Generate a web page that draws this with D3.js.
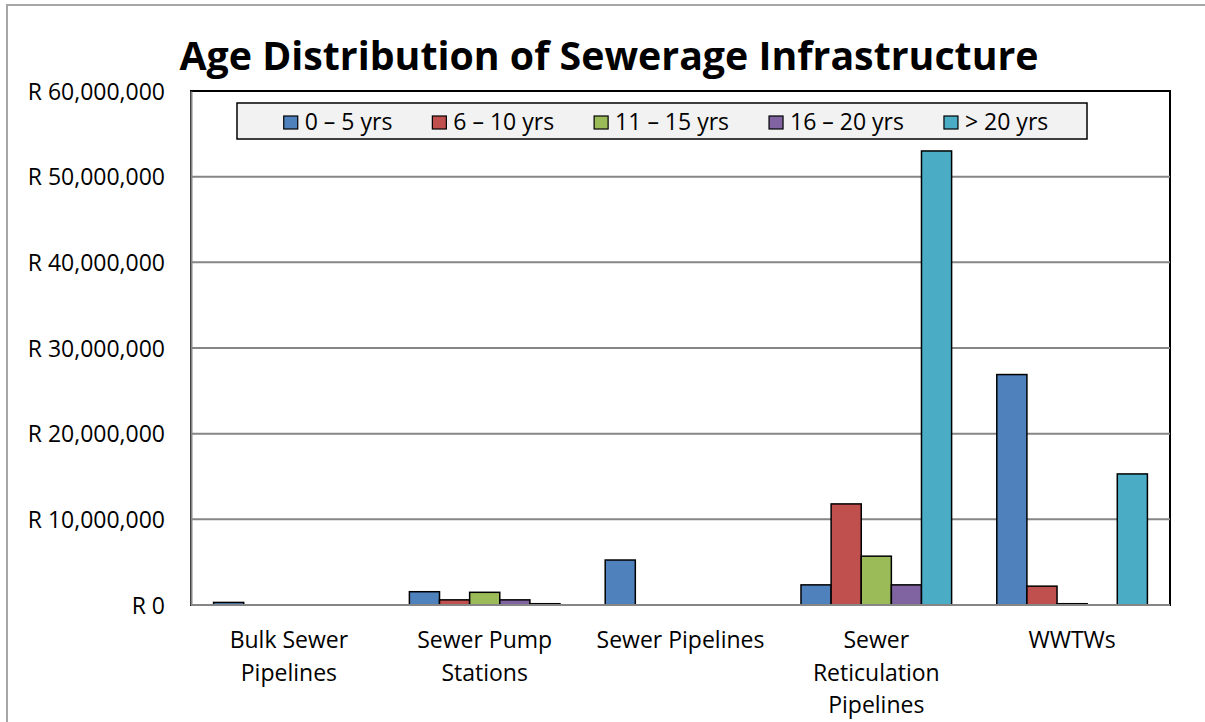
<!DOCTYPE html>
<html>
<head>
<meta charset="utf-8">
<script src="https://cdn.jsdelivr.net/npm/d3@7"></script>
<style>
  body { margin: 0; background: #fff; }
  text { font-family: "Open Sans", "Noto Sans", sans-serif; fill: #000; }
</style>
</head>
<body>
<script>
// categories along the x axis (each label split in lines as in the picture)
var categories = ["Bulk Sewer Pipelines", "Sewer Pump Stations", "Sewer Pipelines",
                  "Sewer Reticulation Pipelines", "WWTWs"];
var categoryLines = [["Bulk Sewer", "Pipelines"], ["Sewer Pump", "Stations"], ["Sewer Pipelines"],
                     ["Sewer", "Reticulation", "Pipelines"], ["WWTWs"]];

var series = ["0 – 5 yrs", "6 – 10 yrs", "11 – 15 yrs", "16 – 20 yrs", "> 20 yrs"];
var colors = ["#4f81bd", "#c0504d", "#9bbb59", "#8064a2", "#4bacc6"];

// values in Rand
var yrs0to5   = [300000, 1550000, 5250000, 2350000, 26900000];
var yrs6to10  = [0, 600000, 0, 11800000, 2200000];
var yrs11to15 = [0, 1480000, 0, 5700000, 150000];
var yrs16to20 = [0, 600000, 0, 2350000, 0];
var yrsOver20 = [0, 150000, 0, 53000000, 15300000];
var seriesValues = [yrs0to5, yrs6to10, yrs11to15, yrs16to20, yrsOver20];

var yTicks = [0, 10000000, 20000000, 30000000, 40000000, 50000000, 60000000];

var W = 1205, H = 722;
var margin = {top: 91, right: 35, bottom: 117, left: 191};

var svg = d3.select("body").append("svg")
    .attr("width", W)
    .attr("height", H);

// outer chart border
svg.append("rect")
    .attr("x", 7).attr("y", 5)
    .attr("width", W + 20).attr("height", H + 20)
    .attr("fill", "#fff")
    .attr("stroke", "#a6a6a6")
    .attr("stroke-width", 2);

var x0 = d3.scaleBand()
    .domain(categories)
    .range([margin.left, W - margin.right])
    .padding(0);

var x1 = d3.scaleBand()
    .domain(series)
    .range([0, x0.bandwidth()])
    .paddingInner(0)
    .paddingOuter(0.75);

var y = d3.scaleLinear()
    .domain([0, 60000000])
    .range([H - margin.bottom, margin.top]);

// plot area frame
svg.append("rect")
    .attr("x", margin.left).attr("y", margin.top)
    .attr("width", W - margin.right - margin.left)
    .attr("height", H - margin.bottom - margin.top)
    .attr("fill", "none")
    .attr("stroke", "#000")
    .attr("stroke-width", 2);

// gridlines
svg.append("g")
    .selectAll("line")
    .data(yTicks.slice(1, -1))
    .enter()
    .append("line")
    .attr("x1", margin.left).attr("x2", W - margin.right)
    .attr("y1", function(d) { return y(d); })
    .attr("y2", function(d) { return y(d); })
    .attr("stroke", "#868686")
    .attr("stroke-width", 2);

// y axis
var fmt = d3.format(",");
var yAxis = svg.append("g")
    .attr("transform", "translate(" + margin.left + ",0)")
    .call(d3.axisLeft(y).tickValues(yTicks).tickSize(0).tickPadding(26)
        .tickFormat(function(d) { return "R " + fmt(d); }));
yAxis.select(".domain").attr("stroke", "#868686").attr("stroke-width", 2);
yAxis.selectAll("text").style("font-size", "23px").attr("font-family", null).attr("dy", "0.35em");

// bars
var groups = svg.append("g")
    .selectAll("g")
    .data(categories)
    .enter()
    .append("g")
    .attr("transform", function(d) { return "translate(" + x0(d) + ",0)"; });

groups.selectAll("rect")
    .data(function(d, i) {
        return series.map(function(s, j) { return {key: s, value: seriesValues[j][i], color: colors[j]}; })
            .filter(function(e) { return e.value > 0; });
    })
    .enter()
    .append("rect")
    .attr("x", function(d) { return x1(d.key); })
    .attr("y", function(d) { return y(d.value); })
    .attr("width", x1.bandwidth())
    .attr("height", function(d) { return y(0) - y(d.value); })
    .attr("fill", function(d) { return d.color; })
    .attr("stroke", "#000")
    .attr("stroke-width", 1.5);

// x axis baseline
svg.append("line")
    .attr("x1", margin.left).attr("x2", W - margin.right)
    .attr("y1", y(0)).attr("y2", y(0))
    .attr("stroke", "#868686")
    .attr("stroke-width", 2);

// category labels
svg.append("g")
    .selectAll("text")
    .data(categories)
    .enter()
    .append("text")
    .attr("text-anchor", "middle")
    .style("font-size", "23px")
    .each(function(d, i) {
        var t = d3.select(this);
        categoryLines[i].forEach(function(line, k) {
            t.append("tspan")
                .attr("x", x0(d) + x0.bandwidth() / 2)
                .attr("y", 648 + k * 32.5)
                .text(line);
        });
    });

// title
svg.append("text")
    .attr("x", 609)
    .attr("y", 70)
    .attr("text-anchor", "middle")
    .style("font-size", "39.3px")
    .style("font-weight", "bold")
    .text("Age Distribution of Sewerage Infrastructure");

// legend
var legend = svg.append("g");
legend.append("rect")
    .attr("x", 237).attr("y", 103)
    .attr("width", 850).attr("height", 36)
    .attr("fill", "#f2f2f2")
    .attr("stroke", "#000")
    .attr("stroke-width", 1.5);

var items = legend.selectAll("g")
    .data(series)
    .enter()
    .append("g");
items.append("rect")
    .attr("width", 14).attr("height", 13)
    .attr("y", 116)
    .attr("fill", function(d, i) { return colors[i]; })
    .attr("stroke", "#000")
    .attr("stroke-width", 1.2);
items.append("text")
    .attr("x", 21)
    .attr("y", 130)
    .style("font-size", "23px")
    .text(function(d) { return d; });

var widths = [];
items.each(function() { widths.push(this.getBBox().width); });
var gap = 40;
var total = d3.sum(widths) + gap * (widths.length - 1);
var lx = 666 - total / 2;
items.attr("transform", function(d, i) {
    var t = "translate(" + lx + ",0)";
    lx += widths[i] + gap;
    return t;
});
</script>
</body>
</html>
